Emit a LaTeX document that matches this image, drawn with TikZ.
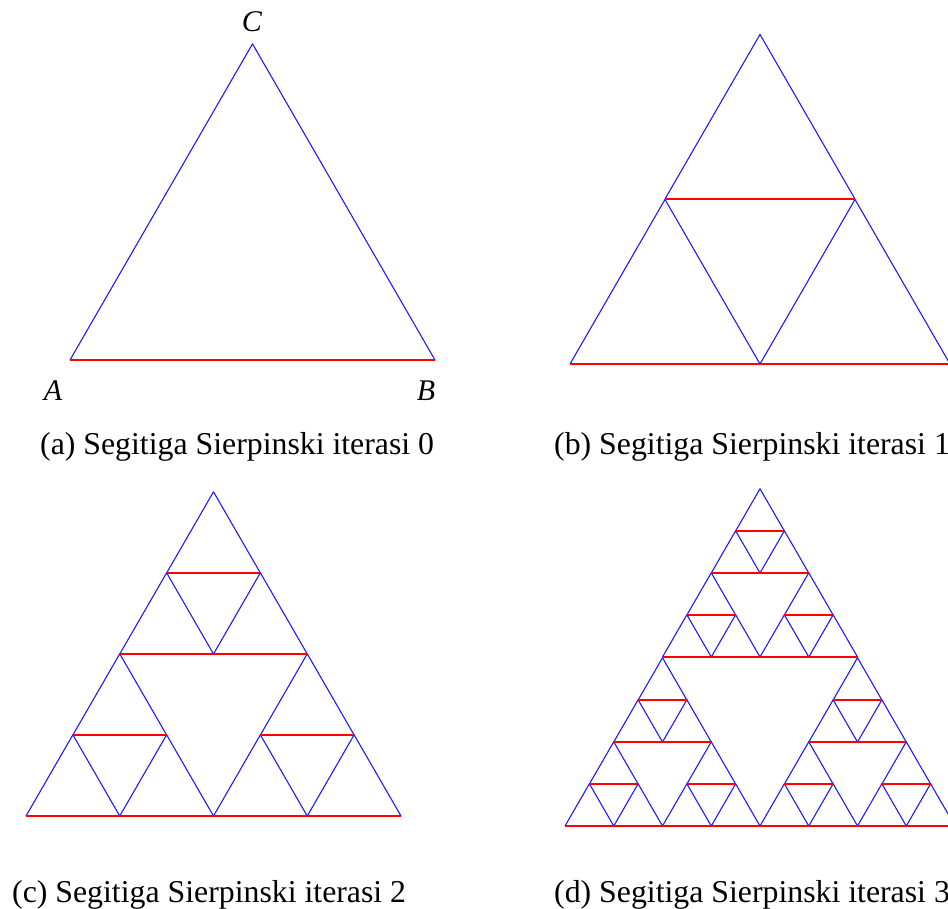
\documentclass[tikz,border=0pt]{standalone}
\usepackage{fontspec}
\setmainfont{Liberation Serif}
\definecolor{sblue}{RGB}{30,30,240}
\definecolor{sred}{RGB}{255,0,0}
\tikzset{
  blueline/.style={draw=sblue, line width=1.1pt, line join=round},
  redline/.style={draw=sred, line width=2pt},
  caption/.style={anchor=base west, inner sep=0pt, font=\fontsize{31.8}{38}\selectfont},
  vlabel/.style={inner sep=0pt, font=\fontsize{30}{36}\selectfont\itshape},
}
% #1 mode (0 blue, 1 red), #2 depth, #3 x, #4 y (bottom-left), #5 side
\newcommand\sierp[5]{%
  \ifnum#2=0
    \ifnum#1=0
      \draw[blueline] (#3,#4) -- ({#3+#5/2},{#4-#5*0.8660254}) -- ({#3+#5},#4);
    \else
      \draw[redline] (#3,#4) -- ({#3+#5},#4);
    \fi
  \else
    \begingroup
    \pgfmathsetmacro\sHs{#5/2}%
    \pgfmathsetmacro\sXr{#3+#5/2}%
    \pgfmathsetmacro\sXm{#3+#5/4}%
    \pgfmathtruncatemacro\sYm{round(#4-#5/2*0.8660254)}%
    \pgfmathtruncatemacro\sDd{#2-1}%
    \edef\sNext{\noexpand\sierp{#1}{\sDd}{#3}{#4}{\sHs}%
      \noexpand\sierp{#1}{\sDd}{\sXr}{#4}{\sHs}%
      \noexpand\sierp{#1}{\sDd}{\sXm}{\sYm}{\sHs}}%
    \sNext
    \endgroup
  \fi}
\newcommand\sierpfull[4]{\sierp{0}{#1}{#2}{#3}{#4}\sierp{1}{#1}{#2}{#3}{#4}}
\begin{document}
\begin{tikzpicture}[x=1pt,y=-1pt]
  \fill[white] (0,0) rectangle (948,908);
  \useasboundingbox (0,0) rectangle (948,908);
  \clip (0,0) rectangle (948,908);
  % (a) iteration 0
  \sierpfull{0}{70}{360}{365}
  \node[vlabel] (labC) at (252,22) {C};
  \node[vlabel] (labA) at (53,391) {A};
  \node[vlabel] (labB) at (426,391) {B};
  % (b) iteration 1
  \sierpfull{1}{570}{364}{380}
  % (c) iteration 2
  \sierpfull{2}{26}{816}{375}
  % (d) iteration 3
  \sierpfull{3}{565}{826}{390}
  % captions
  \node[caption] (capa) at (40,454) {(a) Segitiga Sierpinski iterasi 0};
  \node[caption] (capb) at (554,454) {(b) Segitiga Sierpinski iterasi 1};
  \node[caption] (capc) at (12,902) {(c) Segitiga Sierpinski iterasi 2};
  \node[caption] (capd) at (554,902) {(d) Segitiga Sierpinski iterasi 3};
\end{tikzpicture}
\end{document}
